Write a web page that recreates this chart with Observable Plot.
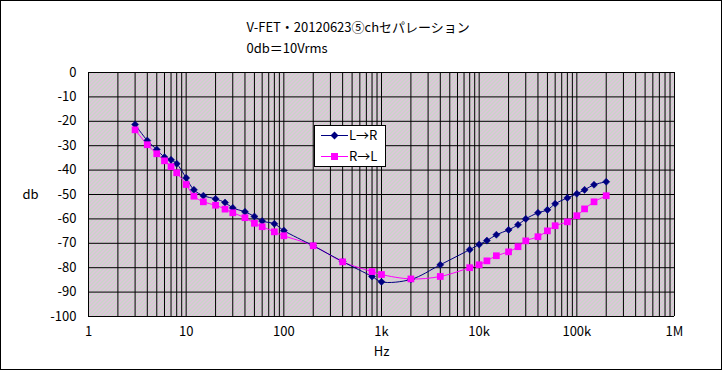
<!DOCTYPE html>
<html>
<head>
<meta charset="utf-8">
<script src="https://cdn.jsdelivr.net/npm/d3@7"></script>
<script src="https://cdn.jsdelivr.net/npm/@observablehq/plot@0.6"></script>
<style>
  html, body { margin: 0; padding: 0; background: #fff; }
  #chart { width: 722px; height: 370px; }
</style>
</head>
<body>
<div id="chart"></div>
<script>
const titleText = "V-FET・20120623⑤chセパレーション";
const subtitleText = "0db＝10Vrms";
const xLabel = "Hz";
const yLabel = "db";
const seriesNames = ["L→R", "R→L"];

const freqs = [3,4,5,6,7,8,10,12,15,20,25,30,40,50,60,80,
  100,200,400,800,1000,2000,4000,
  8000,10000,12000,15000,20000,25000,30000,40000,50000,60000,80000,100000,120000,150000,200000];

const lr = [-21.3,-27.9,-31.6,-34.7,-35.8,-37.4,-43.2,-48.1,-50.5,-51.8,-53.3,-55.5,-57.1,-59,-60.9,-62,
  -64.8,-71,-77.5,-83.6,-85.8,-84.8,-78.8,
  -72.6,-70.5,-68.9,-66.5,-64.5,-62.4,-60,-57.5,-56.3,-53.8,-51.4,-49.7,-48.1,-46,-44.8];

const rl = [-23.5,-29.6,-33.3,-36.2,-38.6,-41.1,-45.9,-50.7,-53,-54.4,-56,-57.5,-59.5,-61.8,-63.2,-65.3,
  -66.9,-71,-77.6,-81.6,-82.8,-84.6,-83.6,
  -80,-78.8,-77.2,-75.1,-73.5,-71.4,-69,-67.3,-64.9,-62.8,-61.2,-58.7,-55.9,-53,-50.5];

const xTicks = [1,10,100,1000,10000,100000,1000000];
const xTickLabels = ["1","10","100","1k","10k","100k","1M"];
const yTicks = [0,-10,-20,-30,-40,-50,-60,-70,-80,-90,-100];

const xGrid = [];
for (let d = 0; d < 6; d++) for (let m = 1; m <= 9; m++) xGrid.push(m * Math.pow(10, d));
xGrid.push(1e6);

const dataLR = freqs.map((f, i) => ({f, v: lr[i]}));
const dataRL = freqs.map((f, i) => ({f, v: rl[i]}));

const font = "'MS PGothic','Noto Sans CJK JP',sans-serif";
const navy = "#000080";
const magenta = "#ff00ff";

const plot = Plot.plot({
  width: 722,
  height: 370,
  marginLeft: 88,
  marginRight: 48,
  marginTop: 72,
  marginBottom: 54,
  style: {fontFamily: font, fontSize: "13px", background: "#fff", color: "#000"},
  x: {type: "log", domain: [1, 1e6]},
  y: {domain: [-100, 0]},
  marks: [
    Plot.frame({fill: "#d0c8d0", className: "bgframe"}),
    Plot.ruleX(xGrid, {stroke: "#000", strokeWidth: 1}),
    Plot.ruleY(yTicks, {stroke: "#000", strokeWidth: 1}),
    Plot.axisX(xTicks, {tickSize: 0, tickPadding: 10, tickFormat: (d) => xTickLabels[xTicks.indexOf(d)], fontSize: 13, label: null}),
    Plot.axisY(yTicks, {tickSize: 0, tickPadding: 12, tickFormat: d => d === 0 ? "0" : String(d), fontSize: 13, label: null}),
    Plot.line(dataRL, {x: "f", y: "v", stroke: magenta, strokeWidth: 1, curve: "catmull-rom"}),
    Plot.line(dataLR, {x: "f", y: "v", stroke: navy, strokeWidth: 1, curve: "catmull-rom"}),
    Plot.dot(dataLR, {x: "f", y: "v", symbol: "diamond2", r: 3.2, fill: navy, stroke: navy, strokeWidth: 0.5}),
    Plot.dot(dataRL, {x: "f", y: "v", symbol: "square", r: 3.8, fill: magenta, stroke: "none"}),
    Plot.text([titleText], {frameAnchor: "top-left", dx: 158, dy: -50, textAnchor: "start", fontSize: 13}),
    Plot.text([subtitleText], {frameAnchor: "top-left", dx: 158, dy: -29, textAnchor: "start", fontSize: 13}),
    Plot.text([yLabel], {frameAnchor: "left", dx: -58, textAnchor: "middle", fontSize: 13}),
    Plot.text([xLabel], {frameAnchor: "bottom", dy: 39, textAnchor: "middle", fontSize: 13})
  ]
});

// pattern background for plot area (dithered pink / green like the original)
const svg = d3.select(plot);
const defs = svg.insert("defs", ":first-child");
const pat = defs.append("pattern").attr("id", "bgpat").attr("patternUnits", "userSpaceOnUse")
  .attr("width", 4).attr("height", 4);
pat.append("rect").attr("width", 4).attr("height", 4).attr("fill", "#d0d0d0");
const pink = "#f4b4ec", green = "#bcdcbc";
[[0,0,pink],[2,0,green],[1,1,green],[3,1,pink],[2,2,pink],[0,2,green],[3,3,green],[1,3,pink]]
  .forEach(([x, y, c]) => pat.append("rect").attr("x", x).attr("y", y).attr("width", 1).attr("height", 1).attr("fill", c));
svg.selectAll("g.bgframe rect, rect.bgframe").attr("fill", "url(#bgpat)");

// outer border
svg.append("rect").attr("x", 0.5).attr("y", 0.5).attr("width", 721).attr("height", 369)
  .attr("fill", "none").attr("stroke", "#000").attr("stroke-width", 1);

// legend
const lg = svg.append("g").attr("font-family", font).attr("font-size", 13).attr("text-anchor", "start");
lg.append("rect").attr("x", 314.5).attr("y", 125.5).attr("width", 71).attr("height", 41)
  .attr("fill", "#fff").attr("stroke", "#000").attr("stroke-width", 1);
lg.append("line").attr("x1", 321).attr("x2", 348).attr("y1", 135.5).attr("y2", 135.5).attr("stroke", navy);
lg.append("path").attr("d", "M334.5,131.5L338.5,135.5L334.5,139.5L330.5,135.5Z").attr("fill", navy);
lg.append("text").attr("x", 349).attr("y", 135.5).attr("dy", "0.35em").attr("text-anchor", "start").text(seriesNames[0]);
lg.append("line").attr("x1", 321).attr("x2", 348).attr("y1", 156.5).attr("y2", 156.5).attr("stroke", magenta);
lg.append("rect").attr("x", 331).attr("y", 153).attr("width", 7).attr("height", 7).attr("fill", magenta);
lg.append("text").attr("x", 349).attr("y", 156.5).attr("dy", "0.35em").attr("text-anchor", "start").text(seriesNames[1]);

document.getElementById("chart").appendChild(plot);
</script>
</body>
</html>
